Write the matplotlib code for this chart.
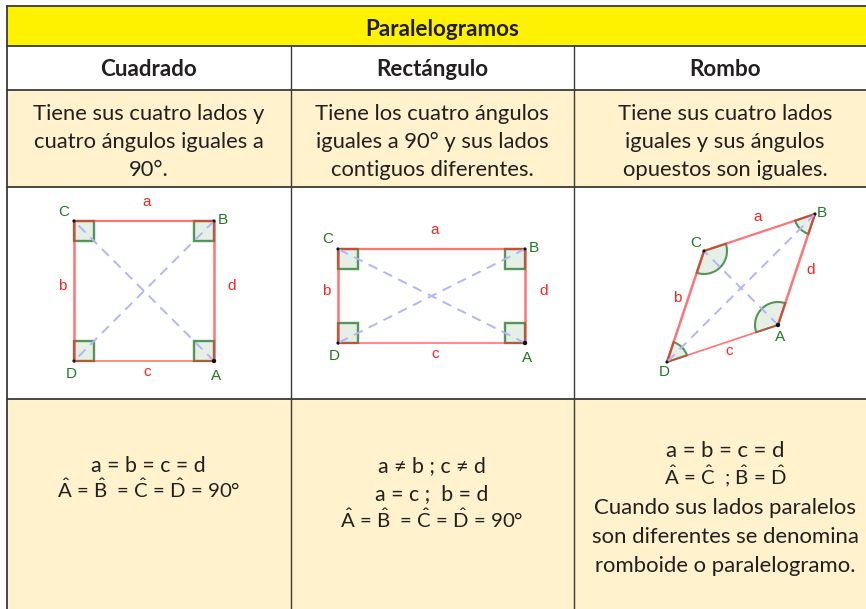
import numpy as np
import matplotlib.pyplot as plt
from matplotlib.patches import Rectangle, Wedge, Polygon

plt.rcParams["font.family"] = ["Lato", "DejaVu Sans"]
plt.rcParams["mathtext.fontset"] = "custom"
plt.rcParams["mathtext.rm"] = "Lato"
plt.rcParams["mathtext.it"] = "Lato"
plt.rcParams["mathtext.bf"] = "Lato:bold"

title = "Paralelogramos"
names = ["Cuadrado", "Rectángulo", "Rombo"]
descriptions = [
    "Tiene sus cuatro lados y\ncuatro ángulos iguales a\n90°.",
    "Tiene los cuatro ángulos\niguales a 90° y sus lados\ncontiguos diferentes.",
    "Tiene sus cuatro lados\niguales y sus ángulos\nopuestos son iguales.",
]
hat_a, hat_b, hat_c, hat_d = [r"$\hat{\mathrm{%s}}$" % s for s in "ABCD"]
properties = [
    ["a = b = c = d", f"{hat_a} = {hat_b}  = {hat_c} = {hat_d} = 90°"],
    ["a ≠ b ; c ≠ d", "a = c ;  b = d", f"{hat_a} = {hat_b}  = {hat_c} = {hat_d} = 90°"],
    ["a = b = c = d", f"{hat_a} = {hat_c}  ; {hat_b} = {hat_d}", "Cuando sus lados paralelos",
     "son diferentes se denomina", "romboide o paralelogramo."],
]
# baselines of the lines above, in pixels of the reference
property_baselines = [[472, 498], [472, 500, 528], [457, 484, 514, 543, 572]]

# table grid, in pixels of the reference
col_edges = [7, 291, 574, 867]
row_edges = [6, 46, 90, 187, 399, 610]

# vertices A, B, C, D
square = np.array([[214, 361], [214, 221], [74, 221], [74, 361]], dtype=float)
rectangle = np.array([[525, 343], [525, 249], [338, 249], [338, 343]], dtype=float)
rhombus = np.array([[778, 325], [815, 214], [704, 251], [667, 362]], dtype=float)

RED = "#ff2a2a"
GREEN = "#2e7d32"
BLUE = "#b4b4fa"
CREAM = "#fff2cc"
YELLOW = "#fff200"
LINE = "#3a3a3a"
TEXT = "#231f20"


def draw_grid(ax):
    fills = [YELLOW, "white", CREAM, "white", CREAM]
    for i, fill in enumerate(fills):
        ax.add_patch(Rectangle((col_edges[0], row_edges[i]), col_edges[-1] - col_edges[0],
                               row_edges[i + 1] - row_edges[i], fc=fill, ec="none", zorder=1))
    for y in row_edges[:-1]:
        ax.plot([col_edges[0], col_edges[-1]], [y, y], color=LINE, lw=1.3, zorder=2)
    ax.plot([col_edges[0], col_edges[0]], [row_edges[0], row_edges[-1]], color=LINE, lw=1.3, zorder=2)
    for x in col_edges[1:3]:
        ax.plot([x, x], [row_edges[1], row_edges[-1]], color=LINE, lw=1.0, zorder=2)


def draw_shape(ax, pts, labels, side_pos, radii, square_marks=False):
    for i, j in [(0, 2), (1, 3)]:
        ax.plot(pts[[i, j], 0], pts[[i, j], 1], color=BLUE, lw=1.4, ls=(0, (5, 3.5)), zorder=5)

    # angle marks
    for i in range(4):
        p = pts[i]
        u = pts[(i + 1) % 4] - p
        v = pts[(i - 1) % 4] - p
        u = u / np.hypot(*u)
        v = v / np.hypot(*v)
        if square_marks:
            corners = [p, p + u * radii[i], p + (u + v) * radii[i], p + v * radii[i]]
            ax.add_patch(Polygon(corners, closed=True, fc=GREEN, alpha=0.12, ec="none", zorder=3))
            ax.add_patch(Polygon(corners, closed=True, fc="none", ec=GREEN, alpha=0.8, lw=1.7, zorder=3))
        else:
            a1 = np.degrees(np.arctan2(u[1], u[0]))
            a2 = np.degrees(np.arctan2(v[1], v[0]))
            if (a2 - a1) % 360 > 180:
                a1, a2 = a2, a1
            ax.add_patch(Wedge(p, radii[i], a1, a2, fc=GREEN, alpha=0.12, ec="none", zorder=3))
            ax.add_patch(Wedge(p, radii[i], a1, a2, fc="none", ec=GREEN, alpha=0.8, lw=1.5, zorder=3))

    # the sides go over the marks, that gives the dark red corners
    side_widths = [1.8, 1.6, 1.8, 1.2]
    for i in range(4):
        p, q = pts[i], pts[(i + 1) % 4]
        ax.plot([p[0], q[0]], [p[1], q[1]], color=RED, lw=side_widths[i], alpha=0.65,
                solid_capstyle="round", zorder=4)

    ax.scatter(pts[:, 0], pts[:, 1], s=[10, 5, 5, 5], color="#111111", zorder=6, linewidths=0)

    for (x, y), s in zip(labels, "ABCD"):
        ax.text(x, y, s, color="#1f7a1f", fontsize=11, family="Liberation Sans",
                ha="center", va="center", zorder=6)
    for (x, y), s in zip(side_pos, "abcd"):
        ax.text(x, y, s, color="#ff2020", fontsize=11, family="Liberation Sans",
                ha="center", va="center", zorder=6)


fig = plt.figure(figsize=(8.66, 6.09), dpi=100)
ax = fig.add_axes([0, 0, 1, 1])
ax.set_xlim(0, 866)
ax.set_ylim(609, 0)
ax.axis("off")

draw_grid(ax)

centres = [148.5, 432, 725]

ax.text(442.5, 29, title, fontsize=16.2, fontweight="bold", color=TEXT, ha="center", va="center", zorder=6)
for x, name, desc, lines, baselines, size in zip(centres, names, descriptions, properties,
                                                 property_baselines, [15.3, 15.3, 15.9]):
    ax.text(x, 69.5, name, fontsize=16.1, fontweight="bold", color=TEXT, ha="center", va="center", zorder=6)
    ax.text(x, 142, desc, fontsize=15.8, color=TEXT, ha="center", va="center", linespacing=1.5, zorder=6)
    for line, y in zip(lines, baselines):
        ax.text(x, y, line, fontsize=14.7 if "$" in line else size, color=TEXT,
                ha="center", va="baseline", zorder=6)

draw_shape(ax, square,
           [(216, 376), (223, 220), (64, 212), (71, 374)],
           [(147, 202), (62, 286), (147, 372), (232, 286)],
           [20, 20, 20, 20], square_marks=True)
draw_shape(ax, rectangle,
           [(527, 358), (534, 248), (328, 239), (334, 356)],
           [(435, 230), (326, 291), (435, 354), (544, 291)],
           [20, 20, 20, 20], square_marks=True)
draw_shape(ax, rhombus,
           [(780, 337), (822, 213), (696, 243), (664, 372)],
           [(758, 217), (677, 298), (729, 351), (811, 270)],
           [23, 21, 23, 21])

fig.savefig("out.png", dpi=100)
